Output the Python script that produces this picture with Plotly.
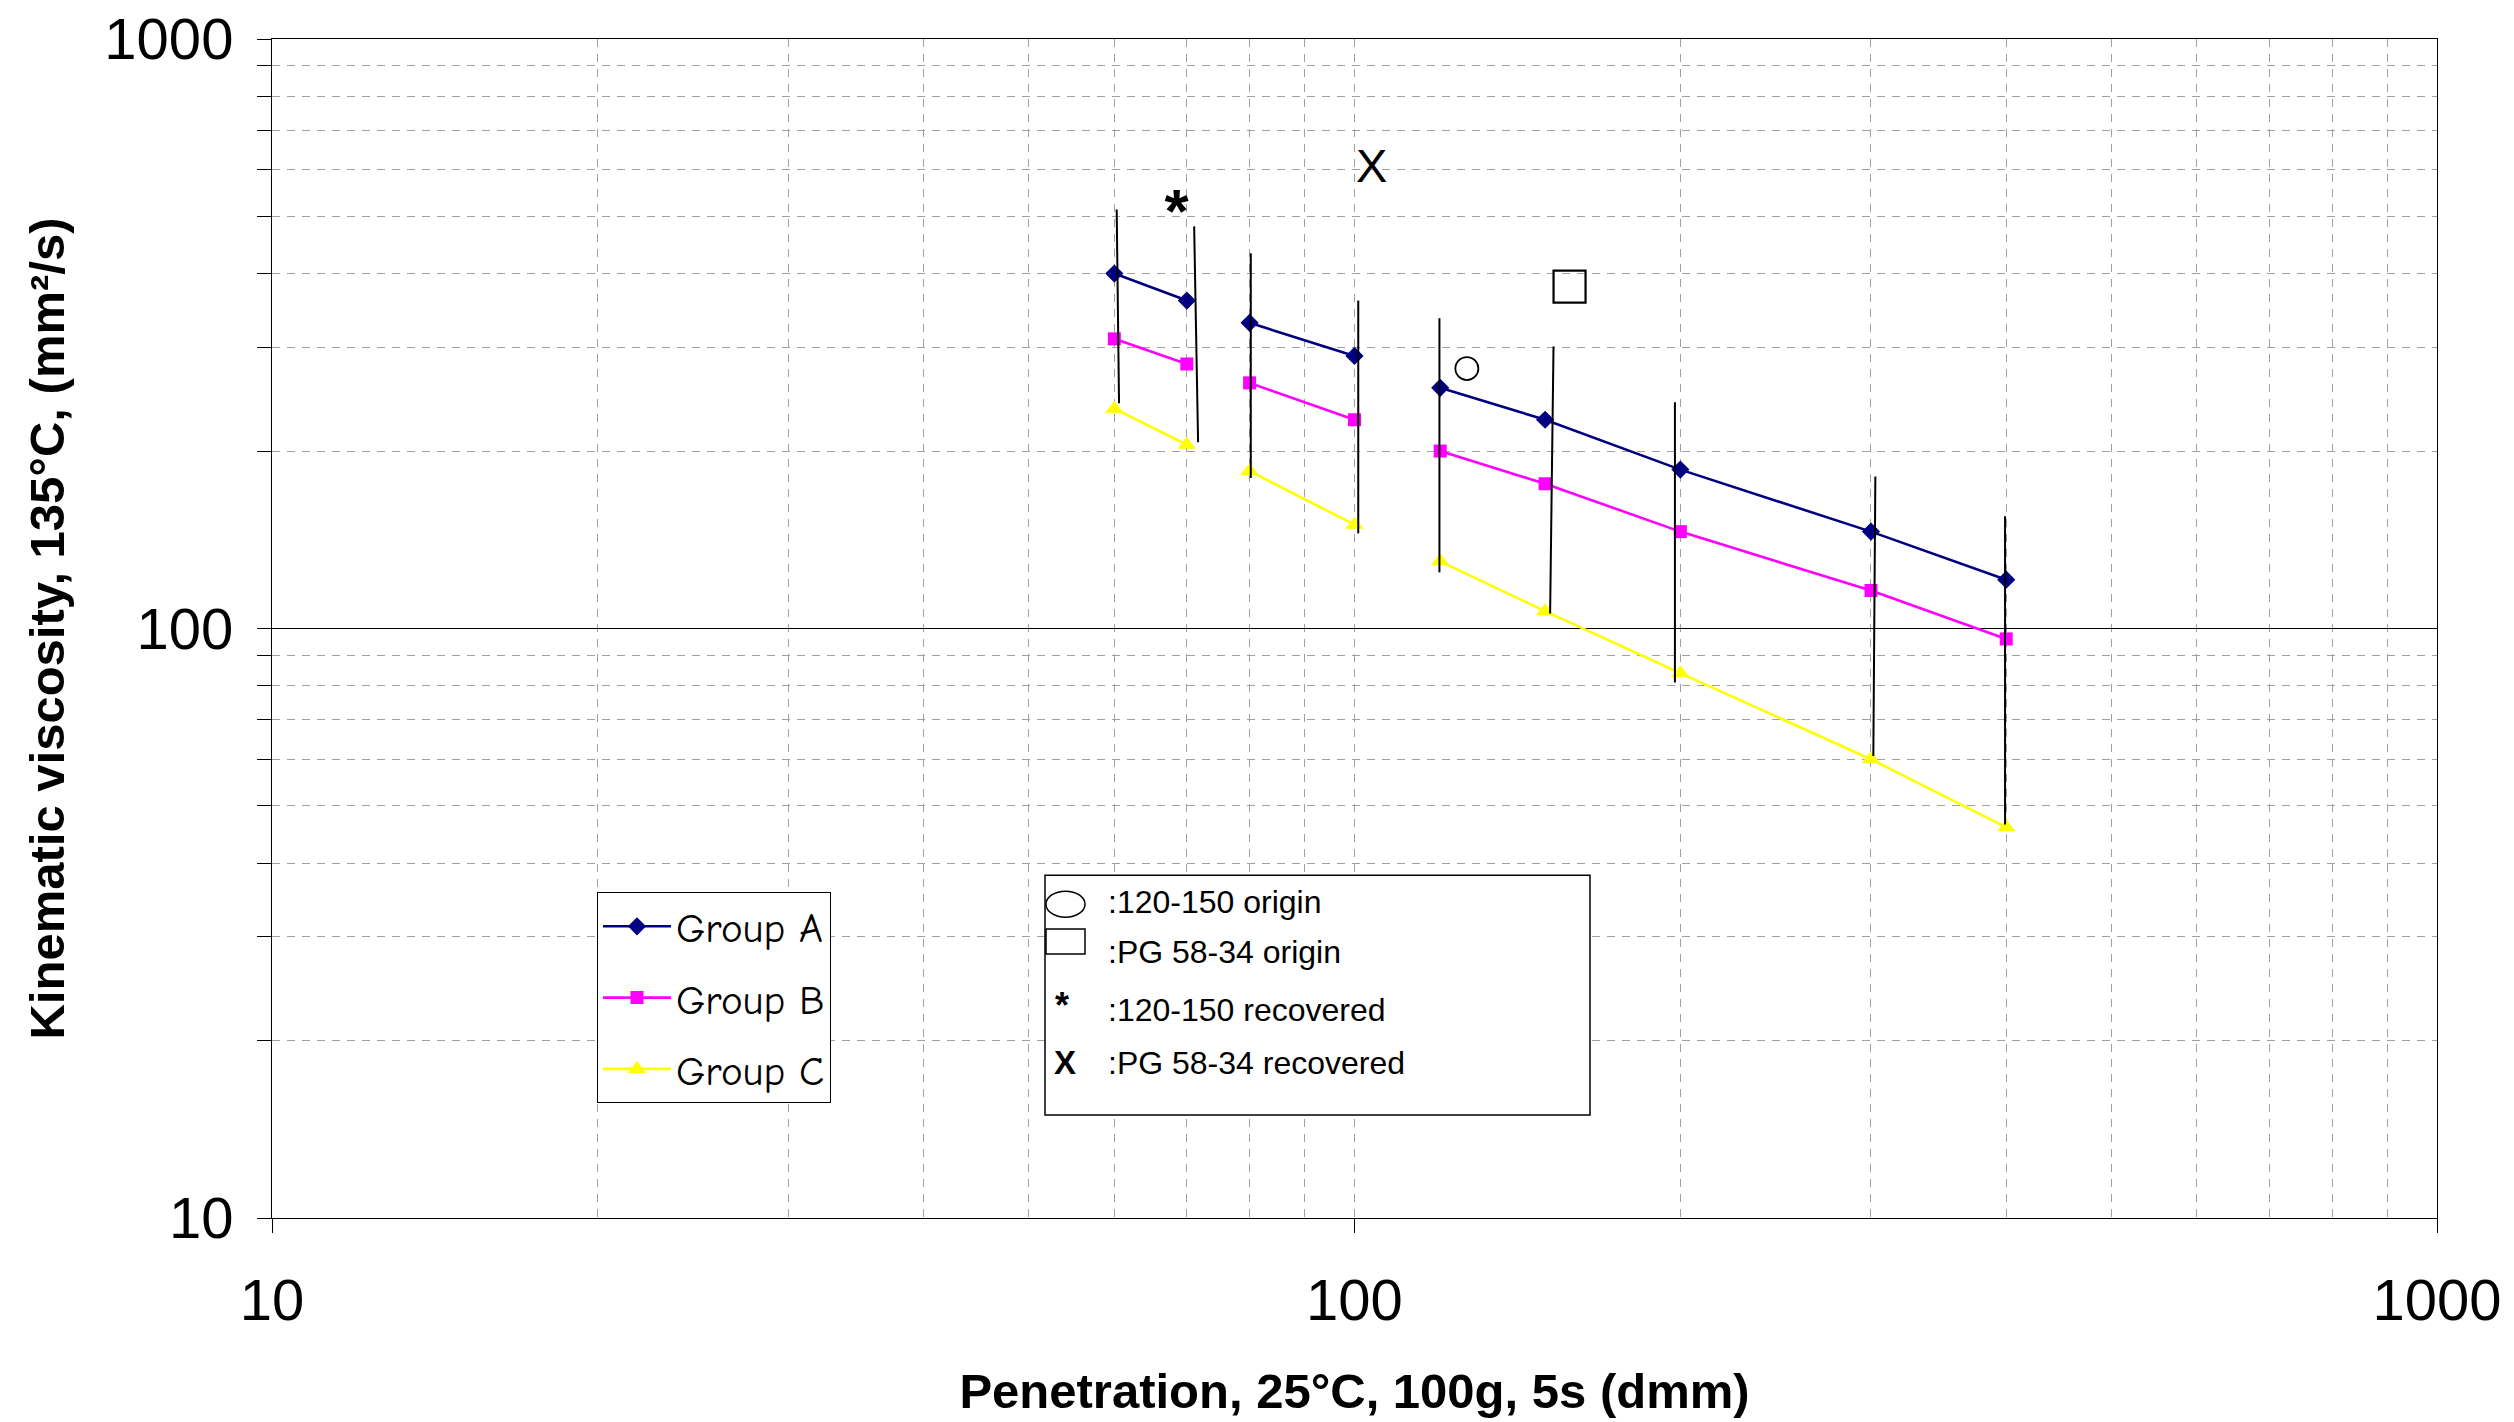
import plotly.graph_objects as go

# ---------------- data ----------------
penetration = [60, 70, 80, 100, 120, 150, 200, 300, 400]
segment = [1, 1, 2, 2, 3, 3, 3, 3, 3]
group_a = [400, 360, 330, 290, 256, 226, 186, 146, 121]
group_b = [310, 281, 261, 226, 200, 176, 146, 116, 96]
group_c = [236, 205, 185, 150, 130, 107, 84, 60, 46]

range_x_top = [60.3, 71.1, 80.2, 100.8, 119.8, 152.7, 197.7, 302.8, 399]
range_x_bottom = [60.6, 71.7, 80.2, 100.8, 119.8, 151.6, 197.7, 301.5, 399]
range_top = [514, 481, 433, 360, 336, 301, 242, 181, 155]
range_bottom = [241, 207, 180, 145, 124.5, 106, 81, 60.8, 46.5]

origin_120_150_x = [127]
origin_120_150_y = [276]
origin_pg_x = [158]
origin_pg_y = [380]
recovered_120_150_x = [68.5]
recovered_120_150_y = [500]
recovered_pg_x = [103.7]
recovered_pg_y = [598]

series_names = ["Group A", "Group B", "Group C"]
series_colors = ["#000080", "#FF00FF", "#FFFF00"]
series_symbols = ["diamond", "square", "triangle-up"]
series_sizes = [14, 13, 16]

x_ticks = [10, 100, 1000]
y_ticks = [10, 100, 1000]

FONT = "Liberation Sans, Arial, sans-serif"
COMIC = "Comic Sans MS, Comic Neue, Noto Sans, sans-serif"


def segmented(xs, ys, seg):
    X, Y = [], []
    prev = None
    for x, y, s in zip(xs, ys, seg):
        if prev is not None and s != prev:
            X.append(None)
            Y.append(None)
        X.append(x)
        Y.append(y)
        prev = s
    return X, Y


fig = go.Figure()

for name, vals, col, sym, sz in zip(series_names, [group_a, group_b, group_c],
                                    series_colors, series_symbols, series_sizes):
    X, Y = segmented(penetration, vals, segment)
    fig.add_trace(go.Scatter(
        x=X, y=Y, name=name, mode="lines+markers", legendgroup=name,
        line=dict(color=col, width=2.6),
        marker=dict(symbol=sym, size=sz, color=col),
        connectgaps=False,
    ))

# range bars
rx, ry = [], []
for xt, xb, yt, yb in zip(range_x_top, range_x_bottom, range_top, range_bottom):
    rx += [xt, xb, None]
    ry += [yt, yb, None]
fig.add_trace(go.Scatter(x=rx, y=ry, mode="lines", showlegend=False,
                         line=dict(color="black", width=2), hoverinfo="skip"))

# special points
fig.add_trace(go.Scatter(x=origin_120_150_x, y=origin_120_150_y, mode="markers",
                         showlegend=False,
                         marker=dict(symbol="circle-open", size=23, color="black",
                                     line=dict(width=1.8))))
fig.add_trace(go.Scatter(x=origin_pg_x, y=origin_pg_y, mode="markers",
                         showlegend=False,
                         marker=dict(symbol="square-open", size=32, color="black",
                                     line=dict(width=2.2))))
fig.add_trace(go.Scatter(x=recovered_120_150_x, y=recovered_120_150_y, mode="text",
                         text=["*"], showlegend=False,
                         textfont=dict(family=FONT, size=62, color="black", weight="bold")))
fig.add_trace(go.Scatter(x=recovered_pg_x, y=recovered_pg_y, mode="text",
                         text=["X"], showlegend=False,
                         textfont=dict(family=FONT, size=47, color="black")))

# ---------------- layout ----------------
OFF = 8  # page offset of the figure in the browser window
W, H = 2514, 1422
# target plot area in screen pixels
SL, SR, ST, SB = 272, 2437, 38.5, 1218
L, T = SL - OFF, ST - OFF
R, B = W - (SR - OFF), H - (SB - OFF)
pw, ph = SR - SL, SB - ST


def px(xpix):
    return (xpix - SL) / pw


def py(ypix):
    return (SB - ypix) / ph


grid_dash = "8px,7px"
grid_col = "#a0a0a0"

fig.update_layout(
    width=W, height=H,
    margin=dict(l=L, r=R, t=T, b=B, autoexpand=False),
    paper_bgcolor="white", plot_bgcolor="white",
    font=dict(family=FONT, color="black"),
    showlegend=True,
    legend=dict(
        x=px(597), y=py(892), xanchor="left", yanchor="top",
        bgcolor="white", bordercolor="black", borderwidth=1,
        font=dict(family=COMIC, size=41, color="black"),
        tracegroupgap=15, itemwidth=68, traceorder="grouped",
    ),
    xaxis=dict(
        type="log", range=[1, 3], dtick=1, tick0=0,
        tickvals=x_ticks, ticktext=[str(v) for v in x_ticks],
        showline=True, linecolor="black", linewidth=1, mirror=True,
        ticks="outside", ticklen=14, tickcolor="black",
        tickfont=dict(family=FONT, size=58, color="black"),
        ticklabelstandoff=17, ticklabeloverflow="allow",
        showgrid=True, gridcolor=grid_col, griddash=grid_dash, gridwidth=1,
        zeroline=False,
        minor=dict(dtick="D1", showgrid=True, gridcolor=grid_col,
                   griddash=grid_dash, gridwidth=1, ticks=""),
        title=dict(text="Penetration, 25°C, 100g, 5s (dmm)",
                   font=dict(family=FONT, size=49, color="black", weight="bold"),
                   standoff=43),
    ),
    yaxis=dict(
        type="log", range=[1, 3], dtick=1, tick0=0,
        tickvals=y_ticks, ticktext=[str(v) for v in y_ticks],
        showline=True, linecolor="black", linewidth=1, mirror=True,
        ticks="outside", ticklen=14, tickcolor="black",
        tickfont=dict(family=FONT, size=58, color="black"),
        ticklabelstandoff=12, ticklabeloverflow="allow",
        showgrid=True, gridcolor="black", gridwidth=1,
        zeroline=False,
        minor=dict(dtick="D1", showgrid=True, gridcolor=grid_col,
                   griddash=grid_dash, gridwidth=1,
                   ticks="outside", ticklen=14, tickcolor="black"),
        title=dict(text="Kinematic viscosity, 135°C, (mm²/s)",
                   font=dict(family=FONT, size=49, color="black", weight="bold"),
                   standoff=24),
    ),
)

# ---------------- symbol key box ----------------
shapes = [
    dict(type="rect", xref="paper", yref="paper",
         x0=px(1045), x1=px(1590), y0=py(1115), y1=py(875),
         line=dict(color="black", width=1.5), fillcolor="white", layer="above"),
    dict(type="circle", xref="paper", yref="paper",
         x0=px(1046), x1=px(1085), y0=py(917), y1=py(891),
         line=dict(color="black", width=1.5), layer="above"),
    dict(type="rect", xref="paper", yref="paper",
         x0=px(1046), x1=px(1085), y0=py(954), y1=py(929),
         line=dict(color="black", width=1.5), layer="above"),
]
fig.update_layout(shapes=shapes)

key_texts = [":120-150 origin", ":PG 58-34 origin", ":120-150 recovered", ":PG 58-34 recovered"]
key_y = [902, 952, 1010, 1063]
for t, yy in zip(key_texts, key_y):
    fig.add_annotation(text=t, xref="paper", yref="paper", x=px(1106), y=py(yy),
                       xanchor="left", yanchor="middle", showarrow=False,
                       font=dict(family=FONT, size=32, color="black"))
fig.add_annotation(text="*", xref="paper", yref="paper", x=px(1062), y=py(1005),
                   xanchor="center", yanchor="middle", showarrow=False,
                   font=dict(family=FONT, size=36, color="black", weight="bold"))
fig.add_annotation(text="X", xref="paper", yref="paper", x=px(1065), y=py(1062),
                   xanchor="center", yanchor="middle", showarrow=False,
                   font=dict(family=FONT, size=33, color="black", weight="bold"))

fig.write_html("out.html")
